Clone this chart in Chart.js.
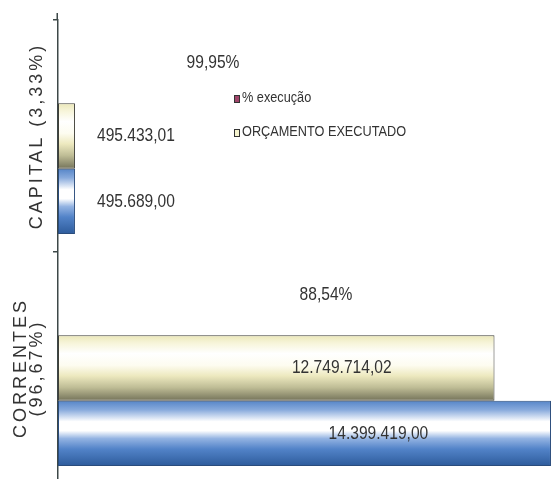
<!DOCTYPE html>
<html><head><meta charset="utf-8">
<script src="https://cdn.jsdelivr.net/npm/chart.js@4.4.1/dist/chart.umd.min.js"></script>
<style>html,body{margin:0;padding:0;background:#fff;overflow:hidden;}canvas{display:block;}</style>
</head><body>
<canvas id="c" width="551" height="490"></canvas>
<script>
// ---- data ----
const categories = [['CAPITAL (3,33%)'], ['CORRENTES', '(96,67%)']];
const pctExecucao = [99.95, 88.54];
const orcamentoExecutado = [495433.01, 12749714.02];
const orcamentoPrevisto = [495689.00, 14399419.00];
const xMax = 14400000;

// ---- styles ----
const TEXT = '#333333';
const AXIS = '#3d4848';
const FONT = '"Liberation Sans",Arial,sans-serif';
const NARROW_SCALE = 0.82;
const yellowStops = [[0,'#ebe7b8'],[0.12,'#f7f5da'],[0.28,'#ffffff'],[0.46,'#fdfcf0'],[0.62,'#ede9bf'],[0.8,'#bebc95'],[1,'#74735a']];
const blueStops = [[0,'#5585c8'],[0.14,'#88aadc'],[0.32,'#ffffff'],[0.46,'#ffffff'],[0.58,'#93b3e2'],[0.74,'#5283c8'],[1,'#2d5b9b']];
const pctLabelOffset = [155, 268];   // text placement of the % labels, px from axis

const fmtNum = v => { const [i, d] = v.toFixed(2).split('.'); return i.replace(/\B(?=(\d{3})+(?!\d))/g, '.') + ',' + d; };
const fmtPct = v => v.toFixed(2).replace('.', ',') + '%';

function narrowText(ctx, txt, x, y, align) {
  ctx.save();
  ctx.translate(x, y);
  ctx.scale(NARROW_SCALE, 1);
  ctx.textAlign = align;
  ctx.fillText(txt, 0, 0);
  ctx.restore();
}

const drawPlugin = {
  id: 'custom',
  beforeDatasetsDraw(chart) {
    const ctx = chart.ctx;
    chart.data.datasets.forEach((ds, di) => {
      if (!ds.stops) return;
      chart.getDatasetMeta(di).data.forEach(el => {
        const top = el.y - el.height / 2, bot = el.y + el.height / 2;
        const g = ctx.createLinearGradient(0, top, 0, bot);
        ds.stops.forEach(([o, c]) => g.addColorStop(o, c));
        el.options = Object.assign({}, el.options, { backgroundColor: g });
      });
    });
  },
  afterDraw(chart) {
    const ctx = chart.ctx, area = chart.chartArea, ys = chart.scales.y;
    ctx.save();
    // axis line extension above first tick
    ctx.strokeStyle = AXIS; ctx.lineWidth = 1.5;
    ctx.beginPath(); ctx.moveTo(area.left - 0.75, area.top - 7); ctx.lineTo(area.left - 0.75, area.top); ctx.stroke();

    // value labels on bars
    ctx.fillStyle = TEXT;
    ctx.textBaseline = 'middle';
    ctx.font = '19px ' + FONT;
    [1, 2].forEach(di => {
      const ds = chart.data.datasets[di];
      chart.getDatasetMeta(di).data.forEach((el, i) => {
        const txt = fmtNum(ds.data[i]);
        const right = Math.min(el.x, area.right);
        const w = right - area.left;
        if (w < 120) narrowText(ctx, txt, right + 22, el.y, 'left');
        else narrowText(ctx, txt, area.left + w / 2 + 0.15 * w, el.y, 'center');
      });
    });
    // % labels
    chart.getDatasetMeta(0).data.forEach((el, i) => {
      narrowText(ctx, fmtPct(pctExecucao[i]), area.left + pctLabelOffset[i], el.y - 8, 'center');
    });

    // legend
    ctx.font = '15.5px ' + FONT;
    const legendItems = [chart.data.datasets[0], chart.data.datasets[1]];
    legendItems.forEach((ds, k) => {
      const cy = 99 + k * 34;
      ctx.fillStyle = ds.legendColor;
      ctx.fillRect(234, cy - 4, 6, 8);
      ctx.strokeStyle = '#333'; ctx.lineWidth = 1;
      ctx.strokeRect(234.5, cy - 3.5, 5, 7);
      ctx.fillStyle = TEXT;
      narrowText(ctx, ds.label, 242, cy - 1, 'left');
    });

    // category labels (rotated)
    ctx.font = '18px ' + FONT;
    ctx.letterSpacing = '3px';
    ctx.textAlign = 'center';
    categories.forEach((lines, i) => {
      const cy = ys.getPixelForValue(i);
      lines.forEach((line, k) => {
        const cx = 37 - (lines.length - 1 - k) * 16;
        ctx.save();
        ctx.translate(cx, cy);
        ctx.rotate(-Math.PI / 2);
        ctx.fillText(line, 0, 0);
        ctx.restore();
      });
    });
    ctx.restore();
  }
};

new Chart(document.getElementById('c'), {
  type: 'bar',
  data: {
    labels: categories.map(l => l.join(' ')),
    datasets: [
      { label: '% execução', data: pctExecucao, backgroundColor: '#8b2f52', legendColor: '#a0456a', borderWidth: 0 },
      { label: 'ORÇAMENTO EXECUTADO', data: orcamentoExecutado, stops: yellowStops, backgroundColor: '#f4f2c8', legendColor: '#f6f4cf', borderColor: '#3f3f38', borderWidth: 1, borderSkipped: false },
      { label: 'ORÇAMENTO PREVISTO', data: orcamentoPrevisto, stops: blueStops, backgroundColor: '#4f7fc4', borderColor: '#2a4c7c', borderWidth: 1, borderSkipped: false }
    ]
  },
  options: {
    indexAxis: 'y',
    responsive: false,
    animation: false,
    devicePixelRatio: 1,
    layout: { padding: { top: 20, bottom: 6, left: 0, right: 0 } },
    datasets: { bar: { barPercentage: 1, categoryPercentage: 0.845 } },
    plugins: { legend: { display: false }, tooltip: { enabled: false } },
    scales: {
      x: { display: false, min: 0, max: xMax },
      y: {
        type: 'category', offset: true,
        grid: { display: true, offset: true, drawOnChartArea: false, drawTicks: true, tickLength: 5, color: AXIS, lineWidth: 1.5 },
        border: { display: true, color: AXIS, width: 1.5 },
        ticks: { display: false },
        afterFit(s) { s.width = 58; }
      }
    }
  },
  plugins: [drawPlugin]
});
</script>
</body></html>
